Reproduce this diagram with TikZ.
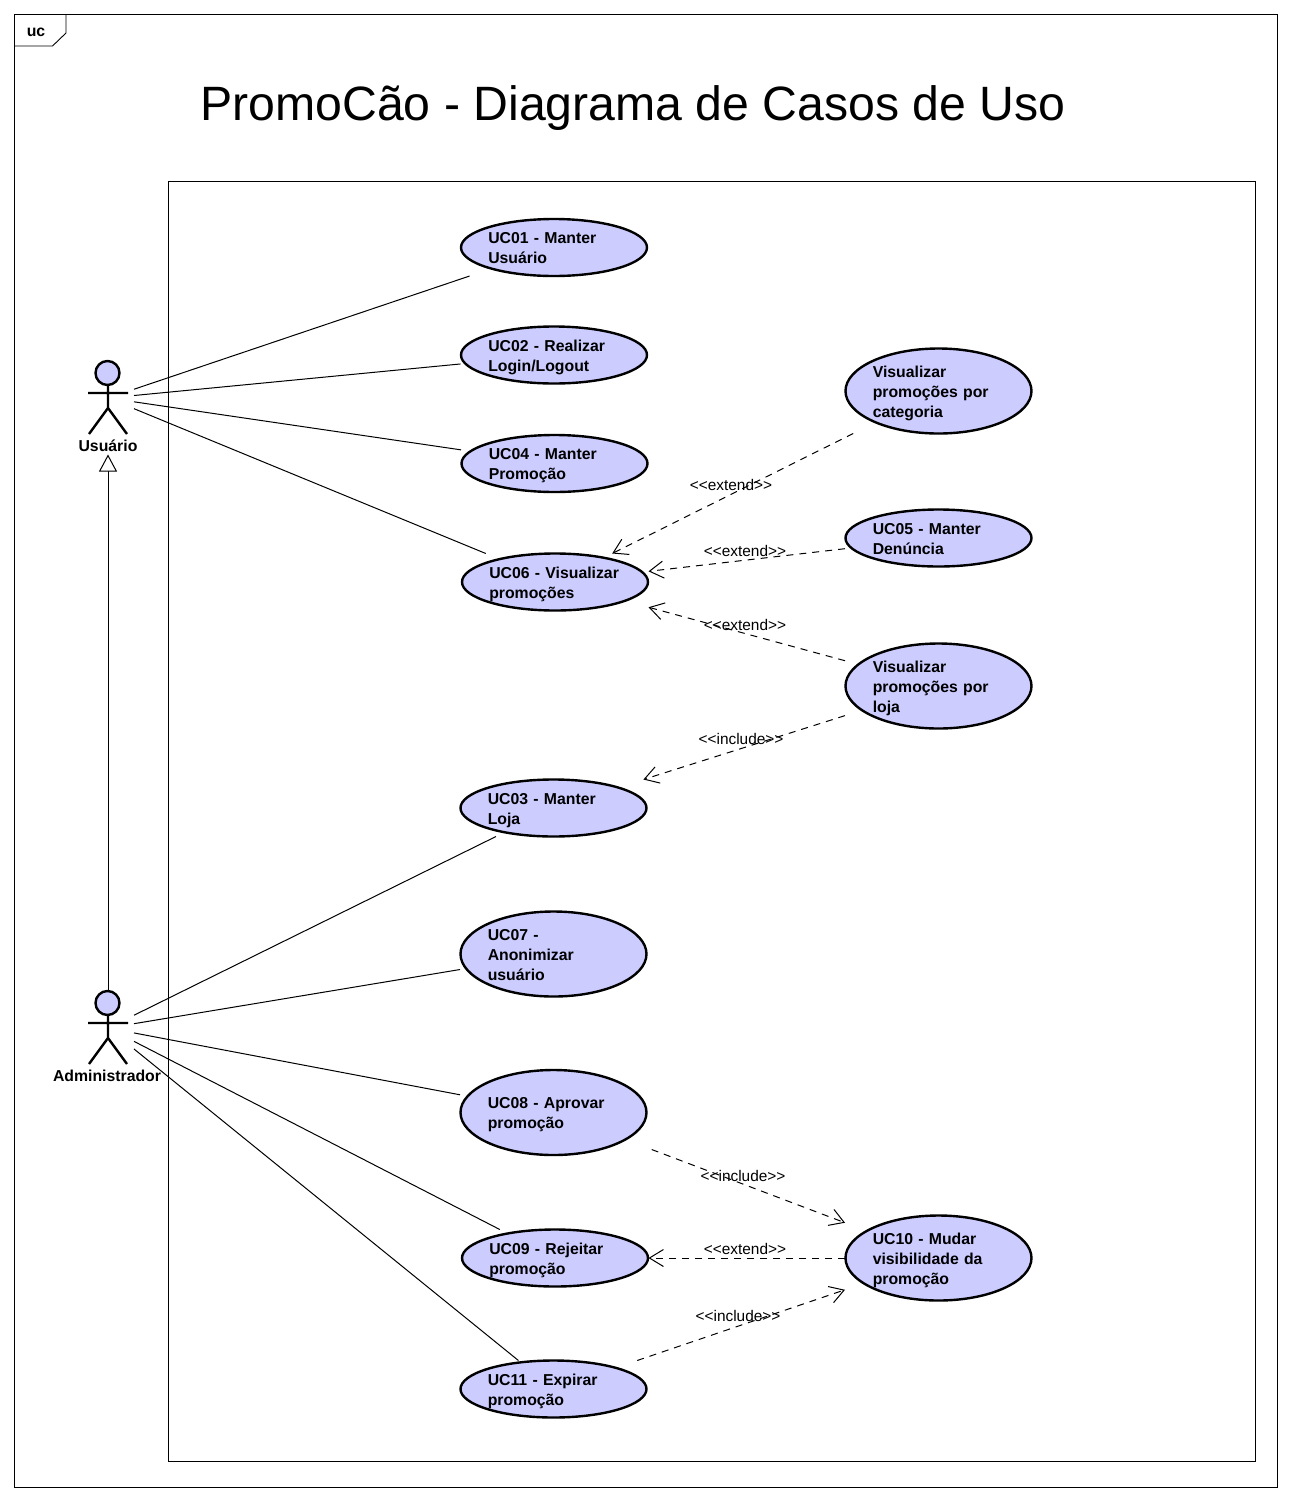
\documentclass[tikz,border=0pt]{standalone}
\usepackage{fontspec}
\setmainfont{Liberation Sans}
\usetikzlibrary{arrows.meta, positioning}
\definecolor{ucfill}{RGB}{204,204,255}
\tikzset{
    ucbody/.style={draw, fill=ucfill, line width=2.4pt},
    ucbox/.style={rectangle, inner sep=0pt, outer sep=0pt, minimum width=187pt, text width=131.5pt, align=left, font=\fontsize{15.8}{20}\selectfont\bfseries},
    actorbox/.style={rectangle, inner sep=0pt, outer sep=0pt, minimum width=52pt, minimum height=74pt},
    actorname/.style={inner sep=0pt, outer sep=0pt, minimum height=18pt, font=\fontsize{15.8}{20}\selectfont\bfseries},
    actorline/.style={line width=2.4pt},
    framing/.style={line width=0.9pt},
    assoc/.style={line width=1pt},
    depend/.style={line width=1pt, dash pattern=on 7pt off 6pt, -{Straight Barb[length=14pt, width=17pt, line width=1pt]}},
    generalize/.style={line width=1pt, -{Triangle[open, length=17pt, width=18pt, fill=white, line width=1pt]}},
    stereo/.style={inner sep=0pt, font=\fontsize{15.4}{18}\selectfont},
}
\begin{document}
\begin{tikzpicture}[x=1pt, y=-1pt]
    \useasboundingbox (0,0) rectangle (1290,1500);

    % Frame with its tag, and the system boundary
    \draw[framing] (14,14) rectangle (1277,1487);
    \draw[framing] (14,46) -- (52.5,46) -- (66,33) -- (66,14);
    \node[font=\fontsize{15.8}{20}\selectfont\bfseries] (tag) at (36,32) {uc};
    \node[font=\fontsize{48.2}{56}\selectfont] (title) at (633,108) {PromoCão - Diagrama de Casos de Uso};
    \draw[framing] (168.5,181) rectangle (1255,1461);

    % The use cases
    \foreach \n/\x/\y/\h/\txt in {
        uc01/554/247.5/57/{UC01 - Manter\\Usuário},
        uc02/554/355/57/{UC02 - Realizar\\Login/Logout},
        uc04/554.5/463.5/57/{UC04 - Manter\\Promoção},
        uc06/555/582/57/{UC06 - Visualizar\\promoções},
        uc03/553.5/808/57/{UC03 - Manter\\Loja},
        uc07/553.5/954/85/{UC07 -\\Anonimizar\\usuário},
        uc08/553.5/1112.5/85/{UC08 - Aprovar\\promoção},
        uc09/555/1258/57/{UC09 - Rejeitar\\promoção},
        uc11/553.5/1389/57/{UC11 - Expirar\\promoção},
        vcat/938.5/391/85/{Visualizar\\promoções por\\categoria},
        uc05/938.5/538/57/{UC05 - Manter\\Denúncia},
        vloja/938.5/686/85/{Visualizar\\promoções por\\loja},
        uc10/938.5/1258/85/{UC10 - Mudar\\visibilidade da\\promoção}} {
        \draw[ucbody] (\x,\y) ellipse [x radius=93pt, y radius=\h/2*1pt];
        \node[ucbox, minimum height=\h pt] (\n) at (\x,\y) {\rule{0pt}{16.5pt}\txt\rule[-4pt]{0pt}{4pt}};
    }

    % The two actors
    \foreach \a/\y/\nx/\name in {usuario/398/108/Usuário, admin/1028/107/Administrador} {
        \node[actorbox] (\a) at (108,\y) {};
        \node[actorname] (\a name) at (\nx,\y+47.5) {\name};
        \draw[actorline, fill=ucfill] (107.5,\y-25) circle (12pt);
        \draw[actorline] (108,\y-13) -- (108,\y+10) (88,\y-5) -- (128,\y-5)
            (89,\y+36) -- (108,\y+10) -- (127,\y+36);
    }

    % Associations
    \foreach \s/\t in {usuario/uc01, usuario/uc02, usuario/uc04, usuario/uc06,
        admin/uc03, admin/uc07, admin/uc08, admin/uc09, admin/uc11} {
        \draw[assoc] (\s) -- (\t);
    }
    \draw[generalize] (admin) -- (usuarioname);

    % Extend and include
    \foreach \s/\t in {vcat/uc06, uc05/uc06, vloja/uc06, vloja/uc03, uc10/uc09, uc11/uc10} {
        \draw[depend] (\s) -- (\t);
    }
    \draw[depend, shorten <=5pt] (uc08) -- (uc10);
    \foreach \n/\x/\y/\txt in {e1/731/485/extend, e2/745/551/extend, e3/745/625/extend,
        i1/741/739/include, i2/743/1176/include, e4/745/1249/extend, i3/738/1316/include} {
        \node[stereo] (\n) at (\x,\y) {<{}<\txt>{}>};
    }
\end{tikzpicture}
\end{document}
